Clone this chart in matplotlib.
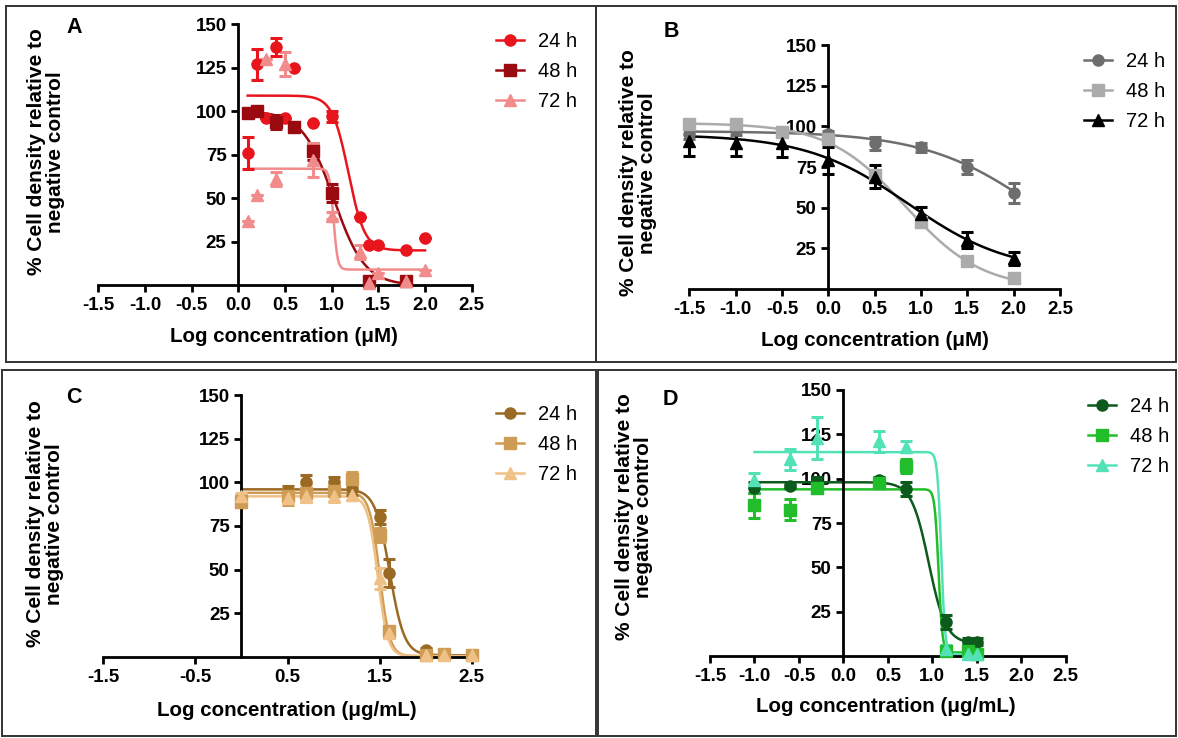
import numpy as np
import matplotlib.pyplot as plt
from matplotlib.patches import Rectangle

plt.rcParams['font.family'] = ['Liberation Sans', 'DejaVu Sans']

# ---------------- panel A (uM) ----------------
A_x24 = [0.1, 0.2, 0.3, 0.4, 0.5, 0.6, 0.8, 1.0, 1.3, 1.4, 1.5, 1.8, 2.0]
A_y24 = [76, 127, 96, 137, 96, 125, 93, 97, 39, 23, 23, 20, 27]
A_e24 = [9, 9, 0, 5, 0, 0, 0, 3, 0, 0, 0, 0, 0]
A_x48 = [0.1, 0.2, 0.4, 0.6, 0.8, 1.0, 1.4, 1.8]
A_y48 = [99, 100, 94, 91, 77, 53, 2.5, 2.5]
A_e48 = [2, 2, 4, 2, 5, 5, 2, 2]
A_x72 = [0.1, 0.2, 0.3, 0.4, 0.5, 0.8, 1.0, 1.3, 1.4, 1.5, 1.8, 2.0]
A_y72 = [37, 52, 130, 61, 127, 72, 40, 19, 1.5, 7, 2.5, 8.5]
A_e72 = [0, 0, 0, 4, 7, 10, 2, 4, 0, 0, 0, 0]
# 4PL fits: top, bottom, logIC50, hill
A_fit24 = [109, 20, 1.18, 5.0]
A_fit48 = [100, 0, 1.02, 2.6]
A_fit72 = [67, 9, 1.02, 20]

# ---------------- panel B (uM) ----------------
B_x = [-1.5, -1.0, -0.5, 0.0, 0.5, 1.0, 1.5, 2.0]
B_y24 = [95.5, 97.5, 96.5, 95.3, 89.5, 87, 75, 59]
B_e24 = [3, 3, 3, 2, 4, 2.5, 4, 6]
B_y48 = [101.5, 101.5, 96.5, 92, 70, 41, 17, 6.6]
B_e48 = [2, 2, 2, 2, 3, 3, 2, 2]
B_y72 = [91, 90, 90, 79, 69, 46, 30, 19]
B_e72 = [9, 8, 9, 8, 7, 4.5, 5, 4]
B_fit24 = [97, 0, 2.3, 0.7]
B_fit48 = [102, 0, 0.83, 1.05]
B_fit72 = [95, 10, 0.86, 0.79]

# ---------------- panel C (ug/mL) ----------------
C_x = [0.0, 0.5, 0.7, 1.0, 1.2, 1.5, 1.6, 2.0, 2.2, 2.5]
C_y24 = [90, 95, 100, 100, 96, 80, 48, 4, 1.5, 1]
C_e24 = [3, 3, 4, 3, 3, 4, 8, 1, 1, 1]
C_y48 = [89, 92, 94, 95, 102, 70, 15, 1, 1.5, 1]
C_e48 = [3, 5, 5, 3, 4, 4, 2, 1, 1, 1]
C_y72 = [92, 91, 92, 92, 93, 45, 14, 1, 1, 1]
C_e72 = [2, 3, 3, 3, 3, 6, 2, 1, 1, 1]
C_fit24 = [96, 1, 1.61, 5.5]
C_fit48 = [94, 0.5, 1.50, 8]
C_fit72 = [92, 0.5, 1.48, 8]

# ---------------- panel D (ug/mL) ----------------
D_x = [-1.0, -0.6, -0.3, 0.4, 0.7, 1.15, 1.4, 1.5]
D_y24 = [95, 96, 98, 99, 94, 19, 8, 8]
D_e24 = [3, 1, 3, 2, 4, 4, 2, 2]
D_y48 = [85, 82.5, 95, 97.5, 107, 3, 3, 1]
D_e48 = [7, 6, 3, 3, 4, 2, 2, 1]
D_y72 = [99, 111, 123, 121, 118, 4, 1, 1]
D_e72 = [4, 6, 12, 6, 3, 2, 1, 1]
D_fit24 = [98, 7, 0.96, 4.5]
D_fit48 = [94, 2, 1.07, 20]
D_fit72 = [115, 1, 1.10, 20]

labels = ['24 h', '48 h', '72 h']
markers = ['o', 's', '^']

W, H = 1178, 738


def fx(px):
    return px / W


def fy(py):
    return 1 - py / H


def logistic(x, p):
    top, bottom, c, h = p
    return bottom + (top - bottom) / (1 + 10 ** ((x - c) * h))


panels = [
    dict(letter='A', rect=(98.3, 285.2, 471.7, 24.3), colors=['#E8151D', '#9B0A10', '#F28C8C'],
         series=[(A_x24, A_y24, A_e24, A_fit24), (A_x48, A_y48, A_e48, A_fit48), (A_x72, A_y72, A_e72, A_fit72)],
         xticks=np.arange(-1.5, 2.51, 0.5), xlabel='Log concentration (\u03bcM)',
         letter_pos=(74, 33), ylab_pos=(46, 152), xlab_pos=(284, 337), leg_pos=(496, 32)),
    dict(letter='B', rect=(689.3, 289, 1060, 45), colors=['#6E6E6E', '#ABABAB', '#000000'],
         series=[(B_x, B_y24, B_e24, B_fit24), (B_x, B_y48, B_e48, B_fit48), (B_x, B_y72, B_e72, B_fit72)],
         xticks=np.arange(-1.5, 2.51, 0.5), xlabel='Log concentration (\u03bcM)',
         letter_pos=(671, 37), ylab_pos=(638, 173), xlab_pos=(875, 340), leg_pos=(1084, 52)),
    dict(letter='C', rect=(103.3, 657, 471.7, 395), colors=['#9A6A25', '#CF9C55', '#EFC187'],
         series=[(C_x, C_y24, C_e24, C_fit24), (C_x, C_y48, C_e48, C_fit48), (C_x, C_y72, C_e72, C_fit72)],
         xticks=np.arange(-1.5, 2.51, 1.0), xlabel='Log concentration (\u03bcg/mL)',
         letter_pos=(74, 403), ylab_pos=(45, 524), xlab_pos=(287, 710), leg_pos=(496, 405)),
    dict(letter='D', rect=(710, 656, 1065.7, 390), colors=['#0C5A1C', '#22BD2A', '#52E2B5'],
         series=[(D_x, D_y24, D_e24, D_fit24), (D_x, D_y48, D_e48, D_fit48), (D_x, D_y72, D_e72, D_fit72)],
         xticks=np.arange(-1.5, 2.51, 0.5), xlabel='Log concentration (\u03bcg/mL)',
         letter_pos=(670, 405), ylab_pos=(634, 517), xlab_pos=(886, 707), leg_pos=(1088, 397)),
]

fig = plt.figure(figsize=(W / 100, H / 100), dpi=100)

# panel frames
for x0, y0, x1, y1 in [(6, 6, 596, 362), (596, 6, 1176, 362), (2, 370, 596, 736), (598, 370, 1176, 736)]:
    fig.patches.append(Rectangle((fx(x0), fy(y1)), fx(x1) - fx(x0), fy(y0) - fy(y1),
                                 transform=fig.transFigure, fill=False, edgecolor='#333333', lw=1.4))

for p in panels:
    l, b, r, t = p['rect']
    ax = fig.add_axes([fx(l), fy(b), fx(r) - fx(l), fy(t) - fy(b)])
    handles = []
    for i, (x, y, e, fit) in enumerate(p['series']):
        col = p['colors'][i]
        xx = np.linspace(min(x), max(x), 400)
        ax.plot(xx, logistic(xx, fit), color=col, lw=1.8, clip_on=False, zorder=2)
        ax.errorbar(x, y, yerr=e, fmt='none', ecolor=col, elinewidth=2.2, capsize=4.5, capthick=2.2,
                    clip_on=False, zorder=3)
        ax.plot(x, y, linestyle='none', marker=markers[i], ms=8, color=col, clip_on=False, zorder=4)
        h, = ax.plot([], [], color=col, lw=1.8, marker=markers[i], ms=8)
        handles.append(h)

    ax.set_xlim(-1.5, 2.5)
    ax.set_ylim(0, 150)
    ax.spines['top'].set_visible(False)
    ax.spines['right'].set_visible(False)
    ax.spines['left'].set_position(('data', 0))
    ax.spines['bottom'].set_position(('data', 0))
    for s in ['left', 'bottom']:
        ax.spines[s].set_linewidth(2)
    ax.set_yticks([25, 50, 75, 100, 125, 150])
    ax.set_xticks(p['xticks'])
    ax.set_xticklabels(['%.1f' % v for v in p['xticks']])
    ax.tick_params(direction='out', length=5, width=2, labelsize=13.5)
    for lab in ax.get_xticklabels() + ax.get_yticklabels():
        lab.set_fontweight('bold')
    ax.patch.set_alpha(0)

    ax.legend(handles, labels, loc='upper left', bbox_to_anchor=(fx(p['leg_pos'][0]), fy(p['leg_pos'][1])),
              bbox_transform=fig.transFigure, frameon=False, fontsize=14.5, borderpad=0, borderaxespad=0,
              handlelength=1.4, handletextpad=0.7, labelspacing=0.55, numpoints=1)

    fig.text(fx(p['letter_pos'][0]), fy(p['letter_pos'][1]), p['letter'], fontsize=15.5, fontweight='bold',
             ha='center', va='baseline')
    fig.text(fx(p['ylab_pos'][0]), fy(p['ylab_pos'][1]), '% Cell density relative to\nnegative control',
             fontsize=15, fontweight='bold', rotation=90, ha='center', va='center', linespacing=0.95)
    fig.text(fx(p['xlab_pos'][0]), fy(p['xlab_pos'][1]), p['xlabel'], fontsize=14.8, fontweight='bold',
             ha='center', va='center')

fig.savefig('out.png', dpi=100)
